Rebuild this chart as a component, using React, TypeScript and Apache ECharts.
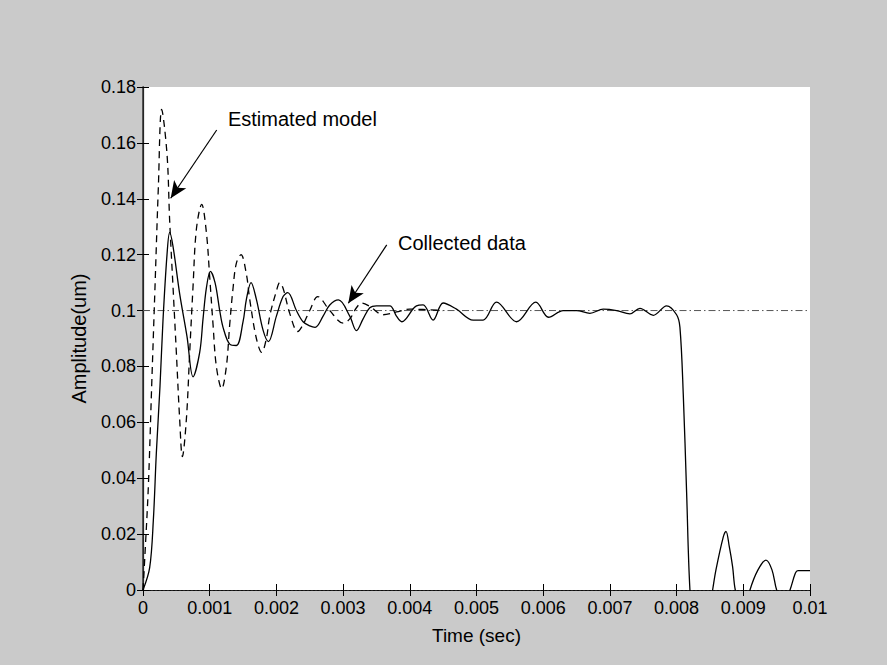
import React, { useEffect, useRef } from "react";
import * as echarts from "echarts";

// Collected data (solid line): [time (s), amplitude (um)]
const collectedData: [number, number][] = [
  [0, 0], [0.0001, 0.008], [0.000155, 0.025], [0.0002, 0.049], [0.000255, 0.073],
  [0.0003, 0.0966], [0.00036, 0.12], [0.0004, 0.128], [0.00045, 0.123], [0.00055, 0.106],
  [0.00066, 0.0907], [0.00075, 0.0763], [0.00085, 0.085], [0.0009, 0.097], [0.00095, 0.108],
  [0.00101, 0.114], [0.00108, 0.11], [0.00115, 0.1], [0.0012, 0.094], [0.0013, 0.088],
  [0.0014, 0.0875], [0.0015, 0.096], [0.00155, 0.104], [0.00162, 0.11], [0.0017, 0.104],
  [0.0018, 0.093], [0.00188, 0.0889], [0.002, 0.098], [0.0021, 0.105], [0.00217, 0.1064],
  [0.0023, 0.1], [0.0024, 0.096], [0.0025, 0.0945], [0.00258, 0.094], [0.0027, 0.098],
  [0.0028, 0.102], [0.00293, 0.1038], [0.0031, 0.098], [0.0032, 0.0928], [0.0033, 0.097],
  [0.0034, 0.101], [0.0035, 0.1017], [0.0037, 0.1017], [0.0038, 0.098], [0.00388, 0.096],
  [0.0041, 0.1017], [0.0042, 0.102], [0.00435, 0.0966], [0.0045, 0.1027], [0.0047, 0.1005],
  [0.00495, 0.0966], [0.0051, 0.0966], [0.0053, 0.103], [0.0056, 0.096], [0.00589, 0.103],
  [0.00608, 0.0976], [0.0063, 0.1], [0.0065, 0.1], [0.0067, 0.099], [0.0069, 0.1005],
  [0.0071, 0.1], [0.0073, 0.0988], [0.00745, 0.1008], [0.00765, 0.0983], [0.00785, 0.1017],
  [0.008, 0.0985], [0.00805, 0.094], [0.0081, 0.07], [0.00815, 0.035], [0.0082, 0.0],
  [0.0083, -0.03], [0.0084, -0.02], [0.00854, 0], [0.00859, 0.0072], [0.0087, 0.019],
  [0.00874, 0.021], [0.00879, 0.0155], [0.00884, 0.0083], [0.00888, 0], [0.009, -0.01],
  [0.0091, 0], [0.00922, 0.0072], [0.00934, 0.0107], [0.00943, 0.0072], [0.0095, 0],
  [0.0096, -0.005], [0.0097, 0], [0.00978, 0.006], [0.00982, 0.0069], [0.01, 0.0069],
];

// Estimated model (dashed line)
const estimatedData: [number, number][] = [
  [0, 0], [0.00003, 0.013], [0.00008, 0.037], [0.00013, 0.073], [0.00018, 0.1085],
  [0.00023, 0.144], [0.00028, 0.172], [0.00036, 0.156], [0.0004, 0.132], [0.00045, 0.1085],
  [0.0005, 0.085], [0.00055, 0.061], [0.00059, 0.0477], [0.00065, 0.061], [0.0007, 0.085],
  [0.00075, 0.1085], [0.0008, 0.129], [0.00088, 0.138], [0.00095, 0.128], [0.001, 0.112],
  [0.00105, 0.095], [0.0011, 0.08], [0.00118, 0.072], [0.00125, 0.08], [0.0013, 0.095],
  [0.00135, 0.108], [0.0014, 0.117], [0.00147, 0.12], [0.00155, 0.113], [0.0016, 0.104],
  [0.0017, 0.09], [0.00178, 0.085], [0.00185, 0.09], [0.0019, 0.098], [0.002, 0.107],
  [0.00205, 0.11], [0.0021, 0.108], [0.0022, 0.099], [0.00232, 0.0925], [0.0024, 0.095],
  [0.0025, 0.1], [0.00262, 0.105], [0.0028, 0.1], [0.003, 0.0955], [0.0031, 0.097],
  [0.0032, 0.101], [0.00328, 0.1027], [0.0034, 0.1015], [0.0036, 0.0985], [0.0038, 0.0995],
  [0.004, 0.1005], [0.0045, 0.1],
];

// Reference level (dash-dot line)
const referenceData: [number, number][] = [[0, 0.1], [0.01, 0.1]];

// Annotations: [text, text anchor (t, v), arrow start (t, v), arrow tip (t, v)]
const annotationTexts = ["Estimated model", "Collected data"];
const annotationTextAt: [number, number][] = [[0.001274, 0.1686], [0.003823, 0.1242]];
const arrowFrom: [number, number][] = [[0.001105, 0.1646], [0.003654, 0.1235]];
const arrowTo: [number, number][] = [[0.000415, 0.1402], [0.003078, 0.1026]];

const xTickInterval = 0.001;
const yTickInterval = 0.02;

const FONT = "'Liberation Sans', Arial, sans-serif";

export default function App() {
  const ref = useRef<HTMLDivElement>(null);
  useEffect(() => {
    if (!ref.current) return;
    const chart = echarts.init(ref.current, undefined, { renderer: "svg" });
    const fmtX = (v: number) => (Math.abs(v) < 1e-12 ? "0" : String(+v.toFixed(3)));
    const fmtY = (v: number) => (Math.abs(v) < 1e-12 ? "0" : String(+v.toFixed(2)));
    chart.setOption({
      animation: false,
      backgroundColor: "#cacaca",
      grid: {
        left: 143,
        right: 77,
        top: 87,
        bottom: 75,
        show: true,
        backgroundColor: "#ffffff",
        borderWidth: 0,
      },
      xAxis: [
        {
          type: "value",
          min: 0,
          max: 0.01,
          interval: xTickInterval,
          name: "Time (sec)",
          nameLocation: "middle",
          nameGap: 36,
          nameTextStyle: { color: "#000", fontFamily: FONT, fontSize: 19 },
          axisLine: { show: true, lineStyle: { color: "#000", width: 1.2 } },
          axisTick: { show: true, inside: true, length: 6, lineStyle: { color: "#000" } },
          axisLabel: { formatter: fmtX, color: "#000", fontFamily: FONT, fontSize: 18, margin: 9 },
          splitLine: { show: false },
        },
        {
          type: "value",
          position: "top",
          min: 0,
          max: 0.01,
          interval: xTickInterval,
          axisLine: { show: true, lineStyle: { color: "#222", width: 1, type: [2, 2] } },
          axisTick: { show: true, inside: true, length: 6, lineStyle: { color: "#000" } },
          axisLabel: { show: false },
          splitLine: { show: false },
        },
      ],
      yAxis: [
        {
          type: "value",
          min: 0,
          max: 0.18,
          interval: yTickInterval,
          name: "Amplitude(um)",
          nameLocation: "middle",
          nameGap: 54,
          nameTextStyle: { color: "#000", fontFamily: FONT, fontSize: 20 },
          axisLine: { show: true, lineStyle: { color: "#000", width: 1.2 } },
          axisTick: { show: true, inside: true, length: 6, lineStyle: { color: "#000" } },
          axisLabel: { formatter: fmtY, color: "#000", fontFamily: FONT, fontSize: 18, margin: 7 },
          splitLine: { show: false },
        },
        {
          type: "value",
          position: "right",
          min: 0,
          max: 0.18,
          interval: yTickInterval,
          axisLine: { show: true, lineStyle: { color: "#333", width: 1.5 } },
          axisTick: { show: true, inside: true, length: 6, lineStyle: { color: "#000" } },
          axisLabel: { show: false },
          splitLine: { show: false },
        },
      ],
      series: [
        {
          name: "Reference",
          type: "line",
          data: referenceData,
          symbol: "none",
          lineStyle: { color: "#555", width: 1, type: [7, 3, 1.5, 3] },
          z: 1,
        },
        {
          name: "Estimated model",
          type: "line",
          data: estimatedData,
          symbol: "none",
          smooth: 0.35,
          lineStyle: { color: "#000", width: 1.3, type: [7, 5] },
          z: 2,
          markLine: {
            silent: true,
            animation: false,
            symbol: ["none", "arrow"],
            symbolSize: [11, 17],
            label: { show: false },
            lineStyle: { color: "#000", width: 1.2, type: "solid" },
            data: arrowFrom.map((p, i) => [
              { coord: p },
              { coord: arrowTo[i] },
            ]),
          },
        },
        {
          name: "Collected data",
          type: "line",
          data: collectedData,
          symbol: "none",
          smooth: 0.35,
          clip: true,
          lineStyle: { color: "#000", width: 1.3 },
          z: 3,
        },
      ],
    });
    const graphics = annotationTexts.map((txt, i) => {
      const p = chart.convertToPixel({ xAxisIndex: 0, yAxisIndex: 0 }, annotationTextAt[i]) as number[];
      return {
        type: "text",
        x: p[0],
        y: p[1],
        style: {
          text: txt,
          fill: "#000",
          font: `20px ${FONT}`,
          textAlign: "left",
          textVerticalAlign: "middle",
        },
      };
    });
    chart.setOption({ graphic: graphics });
    return () => chart.dispose();
  }, []);
  return (
    <div
      ref={ref}
      style={{ position: "fixed", left: 0, top: 0, width: 887, height: 665 }}
    />
  );
}
